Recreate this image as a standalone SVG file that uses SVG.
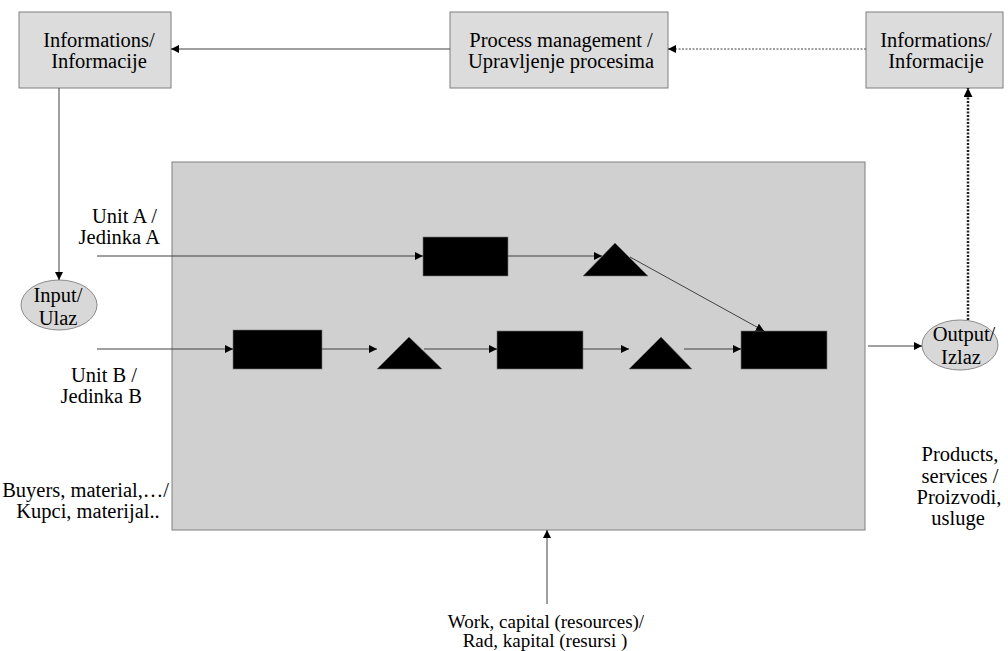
<svg xmlns="http://www.w3.org/2000/svg" width="1008" height="651" viewBox="0 0 1008 651">
<style>
text{font-family:'Liberation Serif','DejaVu Serif',serif;font-size:20.5px;fill:#000}
.box{fill:#dcdcdc;stroke:#7f7f7f;stroke-width:1}
.ell{fill:#d8d8d8;stroke:#8a8a8a;stroke-width:1}
.blk{fill:#000;stroke:#777;stroke-width:0.6}
.c{fill:none;stroke:#404040;stroke-width:1}
.d{fill:none;stroke:#404040;stroke-width:1;stroke-dasharray:2,1.5}
.dd{fill:none;stroke:#202020;stroke-width:2.5;stroke-dasharray:2,1.5}
.m{text-anchor:middle}
.e{text-anchor:end}
.s{font-size:19px}
</style>
<defs>
<marker id="ah" viewBox="0 0 10 10" refX="10" refY="5" markerWidth="8" markerHeight="8" markerUnits="userSpaceOnUse" orient="auto">
<path d="M0,0 L10,5 L0,10 z" fill="#000"/>
</marker>
<marker id="ah2" viewBox="0 0 10 10" refX="10" refY="5" markerWidth="9" markerHeight="9" markerUnits="userSpaceOnUse" orient="auto">
<path d="M0,0 L10,5 L0,10 z" fill="#000"/>
</marker>
</defs>
<rect id="process-area" x="172" y="162" width="693" height="368" fill="#d0d0d0" stroke="#7f7f7f" stroke-width="1"/>
<g id="info-left"><rect class="box" x="19" y="12" width="152" height="76"/>
<text class="m" x="99" y="47">Informations/</text><text class="m" x="99" y="68">Informacije</text></g>
<g id="process-management"><rect class="box" x="450" y="12" width="218" height="76"/>
<text class="m" x="561" y="47">Process management /</text><text class="m" x="561" y="68">Upravljenje procesima</text></g>
<g id="info-right"><rect class="box" x="866" y="12" width="137" height="76"/>
<text class="m" x="936" y="47">Informations/</text><text class="m" x="936" y="68">Informacije</text></g>
<g id="input"><ellipse class="ell" cx="59" cy="305" rx="38" ry="25"/>
<text class="m" x="58" y="302">Input/</text><text class="m" x="58" y="325">Ulaz</text></g>
<g id="output"><ellipse class="ell" cx="960" cy="345" rx="38" ry="25"/>
<text class="m" x="964" y="341">Output/</text><text class="m" x="961" y="364">Izlaz</text></g>
<g id="rect-a"><rect class="blk" x="423" y="237" width="85" height="39"/></g>
<g id="tri-a"><polygon class="blk" points="615,243 648,276 583,276"/></g>
<g id="rect-b1"><rect class="blk" x="233" y="330" width="89" height="39"/></g>
<g id="tri-b1"><polygon class="blk" points="409,337 442,369 377,369"/></g>
<g id="rect-b2"><rect class="blk" x="497" y="331" width="86" height="38"/></g>
<g id="tri-b2"><polygon class="blk" points="661,337 692,369 629,369"/></g>
<g id="rect-b3"><rect class="blk" x="741" y="331" width="86" height="38"/></g>
<g id="labels">
<text class="e" x="157" y="223">Unit A /</text><text class="e" x="160" y="244">Jedinka A</text>
<text class="e" x="137" y="382">Unit B /</text><text class="e" x="142" y="403">Jedinka B</text>
<text class="e" x="169" y="497">Buyers, material,…/</text><text class="m" x="88" y="518">Kupci, materijal..</text>
<text class="m" x="960" y="461">Products,</text><text class="m" x="960" y="483">services /</text>
<text class="m" x="959" y="504">Proizvodi,</text><text class="m" x="958" y="525">usluge</text>
<text class="m s" x="546" y="628">Work, capital (resources)/</text><text class="m s" x="545" y="647">Rad, kapital (resursi )</text>
</g>
<g id="connectors">
<line class="c" x1="450" y1="49" x2="171" y2="49" marker-end="url(#ah)"/>
<line class="d" x1="866" y1="49" x2="668" y2="49" marker-end="url(#ah)"/>
<line class="c" x1="59" y1="88" x2="59" y2="280" marker-end="url(#ah)"/>
<line class="dd" x1="968" y1="320" x2="968" y2="88" marker-end="url(#ah2)"/>
<line class="c" x1="97" y1="256" x2="423" y2="256" marker-end="url(#ah)"/>
<line class="c" x1="508" y1="256" x2="602" y2="256" marker-end="url(#ah)"/>
<line class="c" x1="630" y1="257" x2="764" y2="331" marker-end="url(#ah)"/>
<line class="c" x1="97" y1="349" x2="233" y2="349" marker-end="url(#ah)"/>
<line class="c" x1="322" y1="349" x2="377" y2="349" marker-end="url(#ah)"/>
<line class="c" x1="424" y1="349" x2="497" y2="349" marker-end="url(#ah)"/>
<line class="c" x1="583" y1="349" x2="629" y2="349" marker-end="url(#ah)"/>
<line class="c" x1="684" y1="349" x2="741" y2="349" marker-end="url(#ah)"/>
<line class="c" x1="868" y1="346" x2="922" y2="346" marker-end="url(#ah)"/>
<line class="c" x1="547" y1="604" x2="547" y2="530" marker-end="url(#ah)"/>
</g>
</svg>
